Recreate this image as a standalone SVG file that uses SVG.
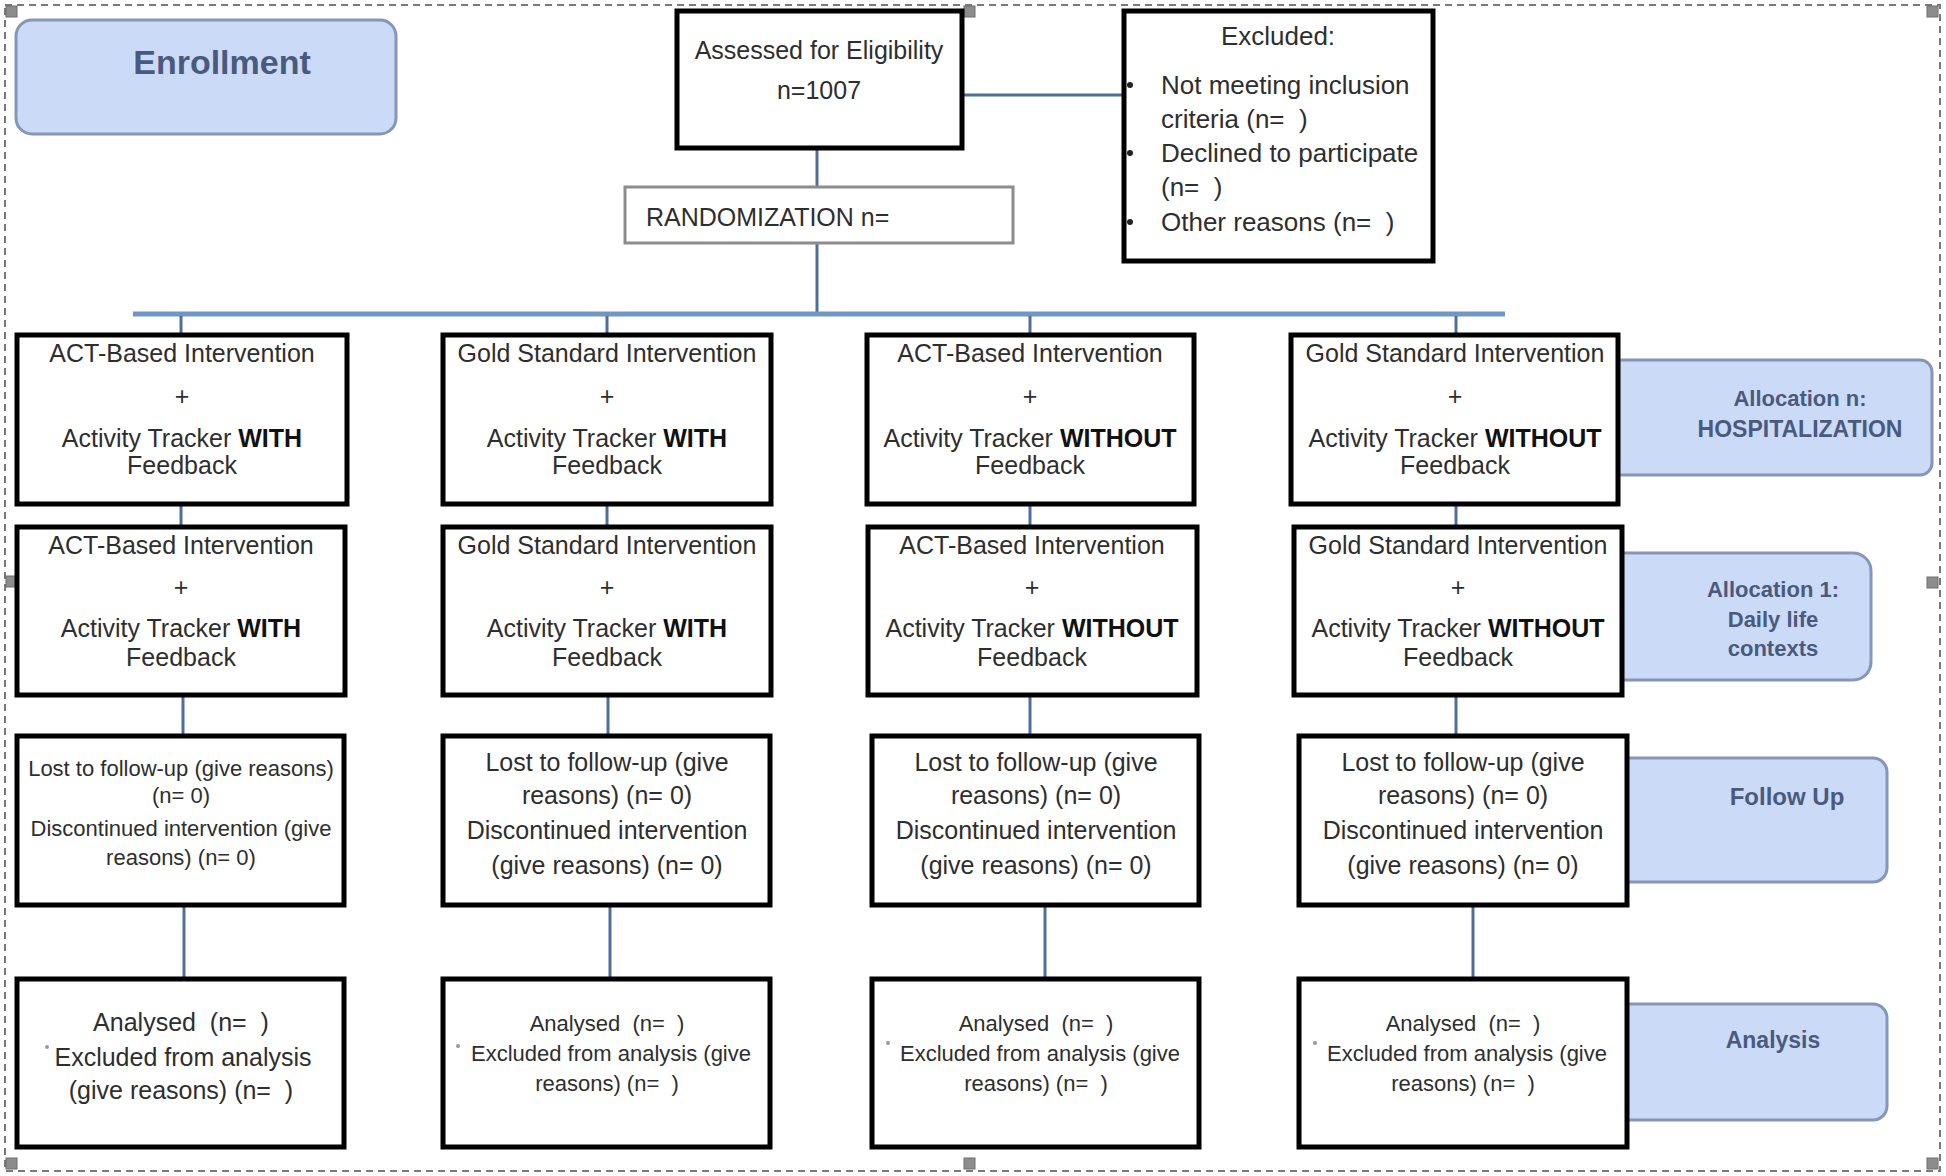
<svg xmlns="http://www.w3.org/2000/svg" width="1946" height="1176" viewBox="0 0 1946 1176">
<style>
.frame{fill:none;stroke:#7a7a7a;stroke-width:2;stroke-dasharray:7 5}
.handle{fill:#8c8c8c;stroke:#6e6e6e;stroke-width:1}
.lab{fill:#cbdbf7;stroke:#8596b6;stroke-width:3}
.labt{font-family:"Liberation Sans",Arial,sans-serif;font-weight:bold;fill:#4a5a7e;text-anchor:middle}
.box{fill:#ffffff;stroke:#000000;stroke-width:5}
.rbox{fill:#ffffff;stroke:#8c8c8c;stroke-width:3}
.t{font-family:"Liberation Sans",Arial,sans-serif;fill:#2e2e2e;text-anchor:middle;font-size:25px;white-space:pre}
.tl{font-family:"Liberation Sans",Arial,sans-serif;fill:#2e2e2e;font-size:25px;white-space:pre}
.b{font-weight:bold;fill:#111}
.s23{font-size:23px}
.s22{font-size:22px}
.s26{font-size:26px}
.con{stroke:#4d6f9e;stroke-width:3;fill:none}
.bar{stroke:#7096c6;stroke-width:5;fill:none}
.dot{fill:#222}
.sdot{fill:#999}
</style>

<rect class="frame" x="5" y="5" width="1935" height="1166"/>
<g id="handles">
<rect class="handle" x="6" y="6" width="11" height="11"/>
<rect class="handle" x="964" y="6" width="11" height="11"/>
<rect class="handle" x="1927" y="6" width="11" height="11"/>
<rect class="handle" x="6" y="576" width="11" height="11"/>
<rect class="handle" x="1927" y="577" width="11" height="11"/>
<rect class="handle" x="6" y="1158" width="11" height="11"/>
<rect class="handle" x="964" y="1158" width="11" height="11"/>
<rect class="handle" x="1927" y="1158" width="11" height="11"/>
</g>

<g id="label-enrollment">
<rect class="lab" x="16" y="20" width="380" height="114" rx="16"/>
<text class="labt" x="222" y="74" font-size="34">Enrollment</text>
</g>
<g id="label-allocation-hosp">
<rect class="lab" x="1590" y="360" width="342" height="115" rx="12"/>
<text class="labt" x="1800" y="406" font-size="22">Allocation n:</text>
<text class="labt" x="1800" y="437" font-size="23">HOSPITALIZATION</text>
</g>
<g id="label-allocation-daily">
<rect class="lab" x="1590" y="553" width="281" height="127" rx="18"/>
<text class="labt" x="1773" y="597" font-size="22">Allocation 1:</text>
<text class="labt" x="1773" y="627" font-size="22">Daily life</text>
<text class="labt" x="1773" y="656" font-size="22">contexts</text>
</g>
<g id="label-followup">
<rect class="lab" x="1590" y="758" width="297" height="124" rx="14"/>
<text class="labt" x="1787" y="805" font-size="24">Follow Up</text>
</g>
<g id="label-analysis">
<rect class="lab" x="1590" y="1004" width="297" height="116" rx="14"/>
<text class="labt" x="1773" y="1048" font-size="23">Analysis</text>
</g>

<g id="connectors">
<line class="con" x1="962" y1="95" x2="1124" y2="95"/>
<line class="con" x1="817" y1="148" x2="817" y2="187"/>
<line class="con" x1="817" y1="243" x2="817" y2="312"/>
<line class="bar" x1="133" y1="314" x2="1505" y2="314"/>
<line class="con" x1="181" y1="316" x2="181" y2="335"/>
<line class="con" x1="607" y1="316" x2="607" y2="335"/>
<line class="con" x1="1030" y1="316" x2="1030" y2="335"/>
<line class="con" x1="1456" y1="316" x2="1456" y2="335"/>
<line class="con" x1="181" y1="504" x2="181" y2="527"/>
<line class="con" x1="607" y1="504" x2="607" y2="527"/>
<line class="con" x1="1030" y1="504" x2="1030" y2="527"/>
<line class="con" x1="1456" y1="504" x2="1456" y2="527"/>
<line class="con" x1="183" y1="695" x2="183" y2="736"/>
<line class="con" x1="608" y1="695" x2="608" y2="736"/>
<line class="con" x1="1030" y1="695" x2="1030" y2="736"/>
<line class="con" x1="1456" y1="695" x2="1456" y2="736"/>
<line class="con" x1="184" y1="905" x2="184" y2="979"/>
<line class="con" x1="610" y1="905" x2="610" y2="979"/>
<line class="con" x1="1045" y1="905" x2="1045" y2="979"/>
<line class="con" x1="1473" y1="905" x2="1473" y2="979"/>
</g>

<g id="assessed">
<rect class="box" x="677" y="11" width="285" height="137"/>
<text class="t" x="819" y="59">Assessed for Eligibility</text>
<text class="t" x="819" y="99">n=1007</text>
</g>

<g id="excluded">
<rect class="box" x="1124" y="11" width="309" height="250"/>
<text class="t s26" x="1278" y="45">Excluded:</text>
<circle class="dot" cx="1130" cy="85" r="3"/>
<circle class="dot" cx="1130" cy="153" r="3"/>
<circle class="dot" cx="1130" cy="222" r="3"/>
<text class="tl s26" x="1161" y="94">Not meeting inclusion</text>
<text class="tl s26" x="1161" y="128">criteria (n=  )</text>
<text class="tl s26" x="1161" y="162">Declined to participate</text>
<text class="tl s26" x="1161" y="196">(n=  )</text>
<text class="tl s26" x="1161" y="231">Other reasons (n=  )</text>
</g>

<g id="randomization">
<rect class="rbox" x="625" y="187" width="388" height="56"/>
<text class="tl" x="646" y="226" font-size="24">RANDOMIZATION n=</text>
</g>

<g id="alloc-h-1">
<rect class="box" x="17" y="335" width="330" height="169"/>
<text class="t" x="182" y="362">ACT-Based Intervention</text>
<text class="t" x="182" y="405">+</text>
<text class="t" x="182" y="447">Activity Tracker <tspan class="b">WITH</tspan></text>
<text class="t" x="182" y="474">Feedback</text>
</g>
<g id="alloc-h-2">
<rect class="box" x="443" y="335" width="328" height="169"/>
<text class="t" x="607" y="362">Gold Standard Intervention</text>
<text class="t" x="607" y="405">+</text>
<text class="t" x="607" y="447">Activity Tracker <tspan class="b">WITH</tspan></text>
<text class="t" x="607" y="474">Feedback</text>
</g>
<g id="alloc-h-3">
<rect class="box" x="867" y="335" width="327" height="169"/>
<text class="t" x="1030" y="362">ACT-Based Intervention</text>
<text class="t" x="1030" y="405">+</text>
<text class="t" x="1030" y="447">Activity Tracker <tspan class="b">WITHOUT</tspan></text>
<text class="t" x="1030" y="474">Feedback</text>
</g>
<g id="alloc-h-4">
<rect class="box" x="1291" y="335" width="327" height="169"/>
<text class="t" x="1455" y="362">Gold Standard Intervention</text>
<text class="t" x="1455" y="405">+</text>
<text class="t" x="1455" y="447">Activity Tracker <tspan class="b">WITHOUT</tspan></text>
<text class="t" x="1455" y="474">Feedback</text>
</g>

<g id="alloc-d-1">
<rect class="box" x="17" y="527" width="328" height="168"/>
<text class="t" x="181" y="554">ACT-Based Intervention</text>
<text class="t" x="181" y="596">+</text>
<text class="t" x="181" y="637">Activity Tracker <tspan class="b">WITH</tspan></text>
<text class="t" x="181" y="666">Feedback</text>
</g>
<g id="alloc-d-2">
<rect class="box" x="443" y="527" width="328" height="168"/>
<text class="t" x="607" y="554">Gold Standard Intervention</text>
<text class="t" x="607" y="596">+</text>
<text class="t" x="607" y="637">Activity Tracker <tspan class="b">WITH</tspan></text>
<text class="t" x="607" y="666">Feedback</text>
</g>
<g id="alloc-d-3">
<rect class="box" x="868" y="527" width="329" height="168"/>
<text class="t" x="1032" y="554">ACT-Based Intervention</text>
<text class="t" x="1032" y="596">+</text>
<text class="t" x="1032" y="637">Activity Tracker <tspan class="b">WITHOUT</tspan></text>
<text class="t" x="1032" y="666">Feedback</text>
</g>
<g id="alloc-d-4">
<rect class="box" x="1294" y="527" width="328" height="168"/>
<text class="t" x="1458" y="554">Gold Standard Intervention</text>
<text class="t" x="1458" y="596">+</text>
<text class="t" x="1458" y="637">Activity Tracker <tspan class="b">WITHOUT</tspan></text>
<text class="t" x="1458" y="666">Feedback</text>
</g>

<g id="followup-1">
<rect class="box" x="17" y="736" width="327" height="169"/>
<text class="t s22" x="181" y="776">Lost to follow-up (give reasons)</text>
<text class="t s22" x="181" y="803">(n= 0)</text>
<text class="t s22" x="181" y="836">Discontinued intervention (give</text>
<text class="t s22" x="181" y="865">reasons) (n= 0)</text>
</g>
<g id="followup-2">
<rect class="box" x="443" y="736" width="327" height="169"/>
<text class="t" x="607" y="771">Lost to follow-up (give</text>
<text class="t" x="607" y="804">reasons) (n= 0)</text>
<text class="t" x="607" y="839">Discontinued intervention</text>
<text class="t" x="607" y="874">(give reasons) (n= 0)</text>
</g>
<g id="followup-3">
<rect class="box" x="872" y="736" width="327" height="169"/>
<text class="t" x="1036" y="771">Lost to follow-up (give</text>
<text class="t" x="1036" y="804">reasons) (n= 0)</text>
<text class="t" x="1036" y="839">Discontinued intervention</text>
<text class="t" x="1036" y="874">(give reasons) (n= 0)</text>
</g>
<g id="followup-4">
<rect class="box" x="1299" y="736" width="328" height="169"/>
<text class="t" x="1463" y="771">Lost to follow-up (give</text>
<text class="t" x="1463" y="804">reasons) (n= 0)</text>
<text class="t" x="1463" y="839">Discontinued intervention</text>
<text class="t" x="1463" y="874">(give reasons) (n= 0)</text>
</g>

<g id="analysis-1">
<rect class="box" x="17" y="979" width="327" height="168"/>
<circle class="sdot" cx="47" cy="1047" r="2"/>
<text class="t" x="181" y="1031">Analysed  (n=  )</text>
<text class="t" x="183" y="1066">Excluded from analysis</text>
<text class="t" x="181" y="1099">(give reasons) (n=  )</text>
</g>
<g id="analysis-2">
<rect class="box" x="443" y="979" width="327" height="168"/>
<circle class="sdot" cx="458" cy="1046" r="2"/>
<text class="t s22" x="607" y="1031">Analysed  (n=  )</text>
<text class="t s22" x="611" y="1061">Excluded from analysis (give</text>
<text class="t s22" x="607" y="1091">reasons) (n=  )</text>
</g>
<g id="analysis-3">
<rect class="box" x="872" y="979" width="327" height="168"/>
<circle class="sdot" cx="888" cy="1043" r="2"/>
<text class="t s22" x="1036" y="1031">Analysed  (n=  )</text>
<text class="t s22" x="1040" y="1061">Excluded from analysis (give</text>
<text class="t s22" x="1036" y="1091">reasons) (n=  )</text>
</g>
<g id="analysis-4">
<rect class="box" x="1299" y="979" width="328" height="168"/>
<circle class="sdot" cx="1315" cy="1043" r="2"/>
<text class="t s22" x="1463" y="1031">Analysed  (n=  )</text>
<text class="t s22" x="1467" y="1061">Excluded from analysis (give</text>
<text class="t s22" x="1463" y="1091">reasons) (n=  )</text>
</g>
</svg>
